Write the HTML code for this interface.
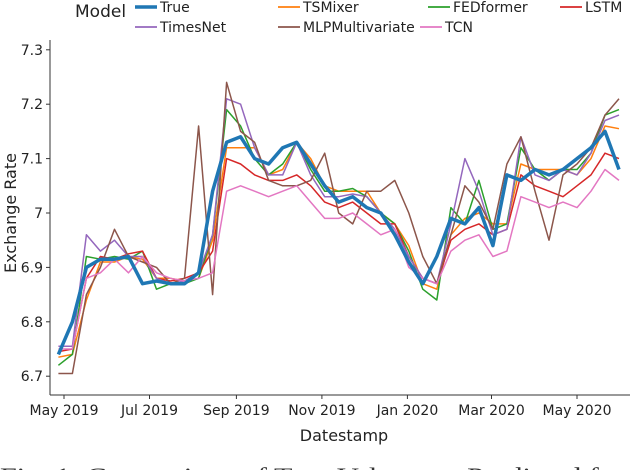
<!DOCTYPE html>
<html><head><meta charset="utf-8"><style>
body{margin:0;background:#fff;width:640px;height:470px;overflow:hidden;font-family:"DejaVu Sans","Liberation Sans",sans-serif}
svg{position:absolute;left:0;top:0}
</style></head><body>
<svg id="chart" width="640" height="470" xmlns="http://www.w3.org/2000/svg"></svg>
<script>
const days=[-4,6,16,26,36,46,56,66,76,86,96,106,116,126,136,146,156,166,176,186,196,206,216,226,236,246,256,266,276,286,296,306,316,326,336,346,356,366,376,386,396];
const trueVals=[6.74,6.80,6.90,6.915,6.915,6.92,6.87,6.875,6.87,6.87,6.89,7.04,7.13,7.14,7.10,7.09,7.12,7.13,7.09,7.05,7.02,7.03,7.01,7.00,6.96,6.91,6.87,6.92,6.99,6.98,7.01,6.94,7.07,7.06,7.08,7.07,7.08,7.10,7.12,7.15,7.08];
const tsmixer=[6.735,6.74,6.84,6.91,6.91,6.92,6.915,6.88,6.88,6.875,6.88,6.95,7.12,7.12,7.12,7.07,7.08,7.13,7.10,7.05,7.04,7.04,7.04,7.00,6.98,6.94,6.87,6.86,6.96,6.99,7.00,6.98,6.98,7.09,7.08,7.08,7.08,7.07,7.10,7.16,7.155];
const fedformer=[6.72,6.74,6.92,6.915,6.92,6.915,6.93,6.86,6.87,6.87,6.88,6.96,7.19,7.16,7.10,7.07,7.09,7.13,7.08,7.04,7.04,7.045,7.03,7.00,6.98,6.93,6.86,6.84,7.01,6.98,7.06,6.97,6.98,7.12,7.08,7.06,7.08,7.08,7.11,7.18,7.19];
const lstm=[6.745,6.75,6.88,6.92,6.915,6.925,6.93,6.88,6.875,6.88,6.89,6.93,7.10,7.09,7.07,7.06,7.06,7.07,7.05,7.02,7.01,7.02,7.00,6.98,6.98,6.92,6.88,6.87,6.95,6.97,6.98,6.96,6.97,7.07,7.05,7.04,7.03,7.05,7.07,7.11,7.10];
const timesnet=[6.755,6.755,6.96,6.93,6.95,6.92,6.92,6.88,6.87,6.875,6.89,6.96,7.21,7.20,7.12,7.07,7.07,7.13,7.07,7.03,7.03,7.035,7.03,7.00,6.97,6.92,6.88,6.87,6.98,7.10,7.04,6.96,6.97,7.14,7.07,7.06,7.08,7.07,7.11,7.17,7.18];
const mlp=[6.705,6.705,6.85,6.90,6.97,6.92,6.91,6.90,6.87,6.88,7.16,6.85,7.24,7.15,7.13,7.06,7.05,7.05,7.06,7.11,7.00,6.98,7.04,7.04,7.06,7.00,6.92,6.87,6.96,7.05,7.02,6.97,7.09,7.14,7.04,6.95,7.07,7.09,7.12,7.18,7.21];
const tcn=[6.75,6.75,6.88,6.89,6.915,6.89,6.92,6.89,6.88,6.875,6.88,6.89,7.04,7.05,7.04,7.03,7.04,7.05,7.02,6.99,6.99,7.00,6.98,6.96,6.97,6.90,6.88,6.87,6.93,6.95,6.96,6.92,6.93,7.03,7.02,7.01,7.02,7.01,7.04,7.08,7.06];
const yTicks=[6.7,6.8,6.9,7.0,7.1,7.2,7.3];
const yTickLabels=["6.7","6.8","6.9","7","7.1","7.2","7.3"];
const xTickDays=[0,61,123,184,245,305,366];
const xTickLabels=["May 2019","Jul 2019","Sep 2019","Nov 2019","Jan 2020","Mar 2020","May 2020"];

const svg=document.getElementById('chart');
const NS="http://www.w3.org/2000/svg";
function xs(d){return 64+d*(513/366);}
function ys(v){return 213-(v-7)*544;}
function mk(tag,attrs,text){const e=document.createElementNS(NS,tag);for(const k in attrs)e.setAttribute(k,attrs[k]);if(text!==undefined)e.textContent=text;svg.appendChild(e);return e;}

let ax=mk('line',{x1:50,y1:395,x2:630,y2:395,stroke:'#333','stroke-width':1});


ax=mk('line',{x1:50,y1:40,x2:50,y2:395,stroke:'#333','stroke-width':1});


yTicks.forEach((v,i)=>{
  const y=ys(v);
  const t=mk('line',{x1:46,y1:y,x2:50,y2:y,stroke:'#333'});
  
  
  const l=mk('text',{x:43,y:y+5,'text-anchor':'end','font-size':14,fill:'#222'},yTickLabels[i]);
  
  
});
xTickDays.forEach((d,i)=>{
  const x=xs(d);
  const t=mk('line',{x1:x,y1:395,x2:x,y2:399,stroke:'#333'});
  
  
  const l=mk('text',{x:x,y:415,'text-anchor':'middle','font-size':14,fill:'#222'},xTickLabels[i]);
  
  
});
let lb=mk('text',{x:344,y:441,'text-anchor':'middle','font-size':16,fill:'#222'},'Datestamp');


lb=mk('text',{x:0,y:0,'text-anchor':'middle','font-size':16,fill:'#222',transform:'translate(16,213) rotate(-90)'},'Exchange Rate');



const series=[
 ['tsmixer',tsmixer,'#ff7f0e',1.5],
 ['fedformer',fedformer,'#2ca02c',1.5],
 ['lstm',lstm,'#d62728',1.5],
 ['timesnet',timesnet,'#9467bd',1.5],
 ['mlpmultivariate',mlp,'#8c564b',1.5],
 ['tcn',tcn,'#e377c2',1.5],
 ['true',trueVals,'#1f77b4',3.5]];
series.forEach(s=>{
  const pts=s[1].map((v,i)=>xs(days[i]).toFixed(1)+','+ys(v).toFixed(1)).join(' ');
  const p=mk('polyline',{points:pts,fill:'none',stroke:s[2],'stroke-width':s[3],'stroke-linejoin':'round'});
  
  
});

lb=mk('text',{x:75,y:17,'font-size':17,fill:'#222'},'Model');


const legend=[['True','#1f77b4',135,7,3.5],['TSMixer','#ff7f0e',278,7,1.8],['FEDformer','#2ca02c',428,7,1.8],['LSTM','#d62728',560,7,1.8],
 ['TimesNet','#9467bd',135,27,1.8],['MLPMultivariate','#8c564b',278,27,1.8],['TCN','#e377c2',420,27,1.8]];
legend.forEach(e=>{
  const l=mk('line',{x1:e[2],y1:e[3],x2:e[2]+22,y2:e[3],stroke:e[1],'stroke-width':e[4]});
  
  
  const t=mk('text',{x:e[2]+25,y:e[3]+5,'font-size':14,fill:'#222'},e[0]);
  
  
});
lb=mk('text',{x:0,y:483,'font-size':22,fill:'#333','font-family':'Liberation Serif, serif',textLength:645,lengthAdjust:'spacingAndGlyphs'},'Fig. 1: Comparison of True Values vs. Predicted for...');


</script>
</body></html>
